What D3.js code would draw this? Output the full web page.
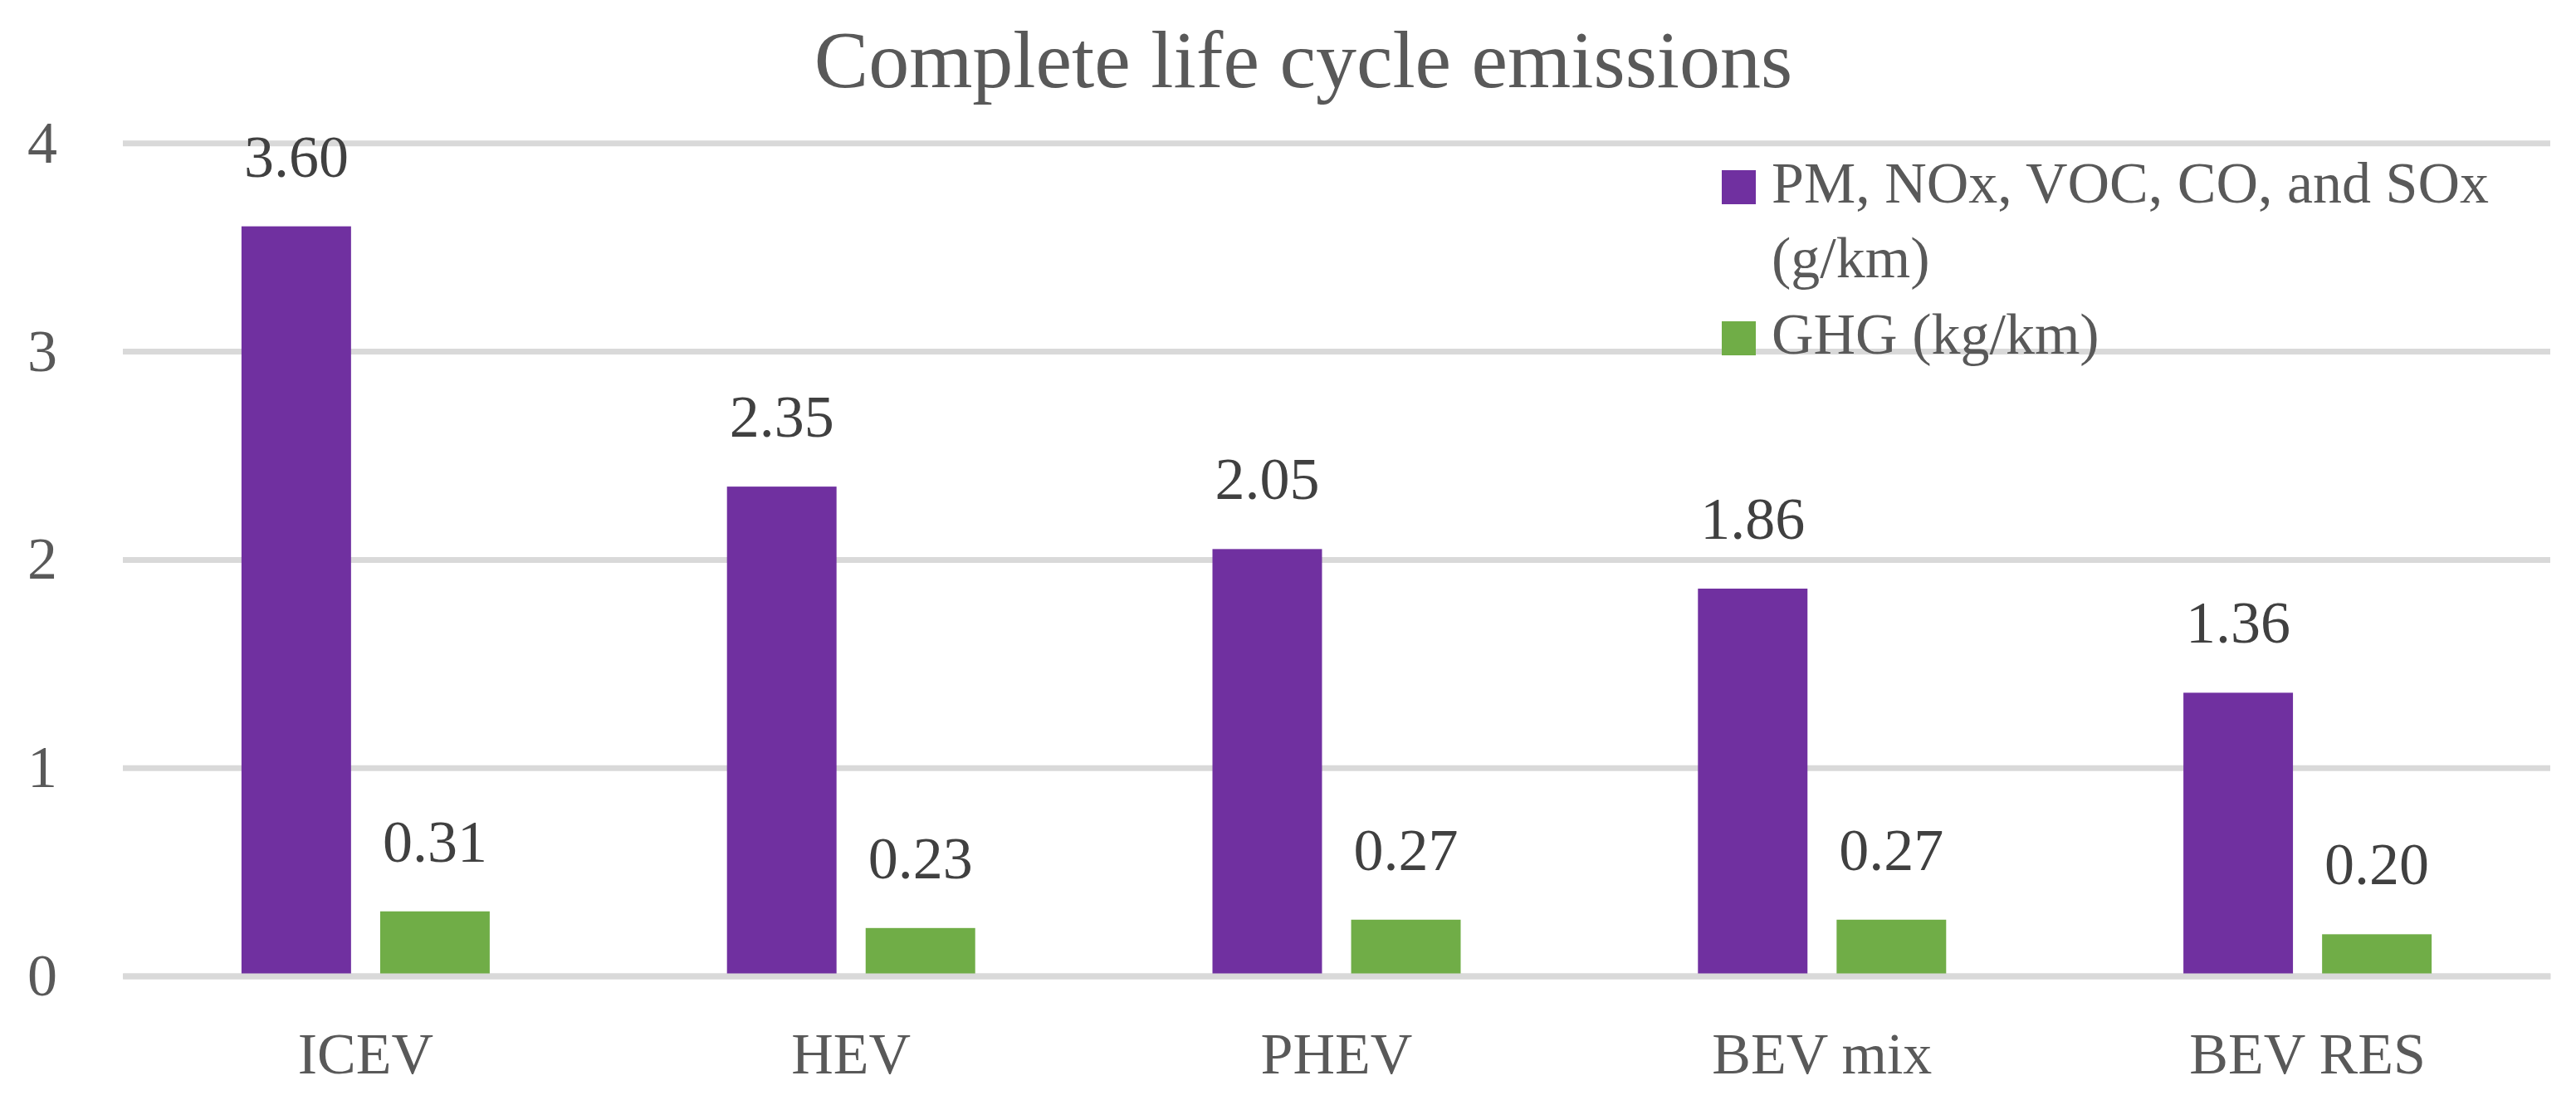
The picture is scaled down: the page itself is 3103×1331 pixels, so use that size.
<!DOCTYPE html>
<html>
<head>
<meta charset="utf-8">
<script src="https://cdn.jsdelivr.net/npm/d3@7"></script>
<style>
  body { margin: 0; background: #fff; }
  text { font-family: "Liberation Serif", "Times New Roman", serif; }
</style>
</head>
<body>
<div id="chart"></div>
<script>
// data
const categories = ["ICEV", "HEV", "PHEV", "BEV mix", "BEV RES"];
const pollutants = [3.60, 2.35, 2.05, 1.86, 1.36];   // g/km
const ghg = [0.31, 0.23, 0.27, 0.27, 0.20];          // kg/km
const seriesKeys = ["pollutants", "ghg"];
const seriesColors = ["#7030A0", "#70AD47"];
const legendLines = [["PM, NOx, VOC, CO, and SOx", "(g/km)"], ["GHG (kg/km)"]];
const yTicks = [0, 1, 2, 3, 4];
const title = "Complete life cycle emissions";

const width = 3103;
const height = 1331;
const left = 148, right = 3072;
const y0 = 1175.5, yTop = 172.3;

const svg = d3.select("#chart")
  .append("svg")
  .attr("width", width)
  .attr("height", height);

const x0 = d3.scaleBand()
  .domain(categories)
  .range([left, right])
  .padding(0);

// two bars per group, 132px each, 35px between them
const x1 = d3.scaleBand()
  .domain(seriesKeys)
  .range([-149.5, 149.5])
  .paddingInner(0.21)
  .paddingOuter(0);

const y = d3.scaleLinear()
  .domain([0, 4])
  .range([y0, yTop]);

// gridlines + y labels
const yAxis = svg.append("g")
  .attr("transform", `translate(${left},0)`)
  .call(d3.axisLeft(y).tickValues(yTicks).tickFormat(d3.format("d"))
    .tickSize(-(right - left)).tickPadding(79));
yAxis.select(".domain").remove();
yAxis.selectAll(".tick line")
  .attr("stroke", "#D9D9D9")
  .attr("stroke-width", 7);
yAxis.selectAll(".tick text")
  .attr("fill", "#595959")
  .style("font-size", "72px");

const rows = categories.map((c, i) => ({ cat: c, pollutants: pollutants[i], ghg: ghg[i] }));

const groups = svg.selectAll("g.group")
  .data(rows)
  .enter()
  .append("g")
  .attr("class", "group")
  .attr("transform", d => `translate(${x0(d.cat) + x0.bandwidth() / 2},0)`);

groups.selectAll("rect")
  .data(d => seriesKeys.map((k, j) => ({ key: k, value: d[k], color: seriesColors[j] })))
  .enter()
  .append("rect")
  .attr("x", d => x1(d.key))
  .attr("width", x1.bandwidth())
  .attr("y", d => y(d.value))
  .attr("height", d => y(0) - y(d.value))
  .attr("fill", d => d.color);

// value labels
groups.selectAll("text.value")
  .data(d => seriesKeys.map(k => ({ key: k, value: d[k] })))
  .enter()
  .append("text")
  .attr("class", "value")
  .attr("x", d => x1(d.key) + x1.bandwidth() / 2)
  .attr("y", d => y(d.value) - 60)
  .attr("text-anchor", "middle")
  .attr("fill", "#404040")
  .style("font-size", "72px")
  .text(d => d.value.toFixed(2));

// category axis, its line sits on top of the bars
const xAxis = svg.append("g")
  .attr("transform", `translate(0,${y0})`)
  .call(d3.axisBottom(x0).tickSize(0).tickSizeOuter(0).tickPadding(68));
xAxis.select(".domain")
  .attr("stroke", "#D9D9D9")
  .attr("stroke-width", 7);
xAxis.selectAll(".tick text")
  .attr("fill", "#595959")
  .style("font-size", "70px");

// title
svg.append("text")
  .attr("x", 1570)
  .attr("y", 105)
  .attr("text-anchor", "middle")
  .attr("fill", "#595959")
  .style("font-size", "98px")
  .text(title);

// legend
const legendTops = [205, 387];
const legend = svg.selectAll("g.legend")
  .data(legendLines)
  .enter()
  .append("g")
  .attr("class", "legend");

legend.append("rect")
  .attr("x", 2074)
  .attr("y", (d, i) => legendTops[i])
  .attr("width", 41)
  .attr("height", 41)
  .attr("fill", (d, i) => seriesColors[i]);

legend.each(function (lines, i) {
  const t = d3.select(this).append("text")
    .attr("fill", "#595959")
    .style("font-size", "70px");
  lines.forEach((line, k) => {
    t.append("tspan")
      .attr("x", 2134)
      .attr("y", legendTops[i] + 39 + k * 90)
      .text(line);
  });
});
</script>
</body>
</html>
